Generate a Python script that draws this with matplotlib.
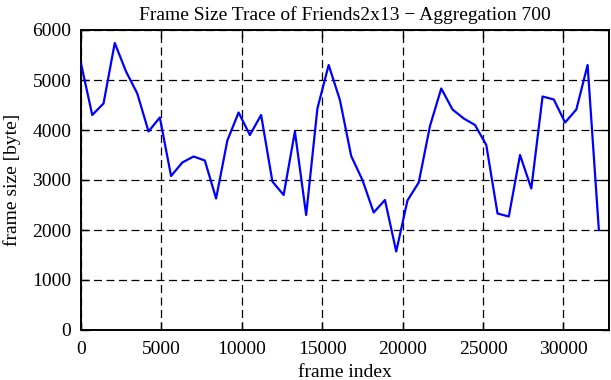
import matplotlib
matplotlib.use("Agg")
import matplotlib.pyplot as plt
import numpy as np

aggregation = 700
frame_sizes = [5330, 4300, 4530, 5740, 5170, 4730, 3970, 4250, 3080, 3350,
               3470, 3390, 2630, 3790, 4350, 3900, 4300, 2970, 2700, 3970,
               2300, 4430, 5300, 4600, 3480, 3000, 2350, 2600, 1570, 2590,
               2950, 4080, 4830, 4410, 4230, 4100, 3700, 2330, 2270, 3500,
               2830, 4670, 4610, 4150, 4410, 5300, 2000]
frame_index = [i * aggregation for i in range(len(frame_sizes))]
x_ticks = [0, 5000, 10000, 15000, 20000, 25000, 30000]
y_ticks = [0, 1000, 2000, 3000, 4000, 5000, 6000]
title = "Frame Size Trace of Friends2x13 \u2212 Aggregation 700"

plt.rcParams['font.family'] = ['Liberation Serif', 'DejaVu Serif']

fig = plt.figure(figsize=(6.11, 3.80), dpi=100)
ax = fig.add_axes([81/611, 1 - 330/380, (608.5 - 81)/611, 300/380])

ax.plot(frame_index, frame_sizes, color=(0, 0, 1), lw=1.6, zorder=3)

ax.set_xlim(0, 32800)
ax.set_ylim(0, 6000)
ax.set_xticks(x_ticks)
ax.set_yticks(y_ticks)
ax.grid(True, color='black', linestyle=(0, (6.4, 3.6)), lw=0.9)
ax.tick_params(direction='in', length=6, width=1, top=True, right=True,
               labelsize=14)
ax.tick_params(axis='x', pad=8)
ax.tick_params(axis='y', pad=7)
for s in ax.spines.values():
    s.set_linewidth(1.4)

ax.set_title(title, fontsize=14, pad=7)
ax.set_xlabel("frame index", fontsize=14, labelpad=4)
ax.set_ylabel("frame size [byte]", fontsize=14, labelpad=8)

fig.savefig("out.png", dpi=100)
